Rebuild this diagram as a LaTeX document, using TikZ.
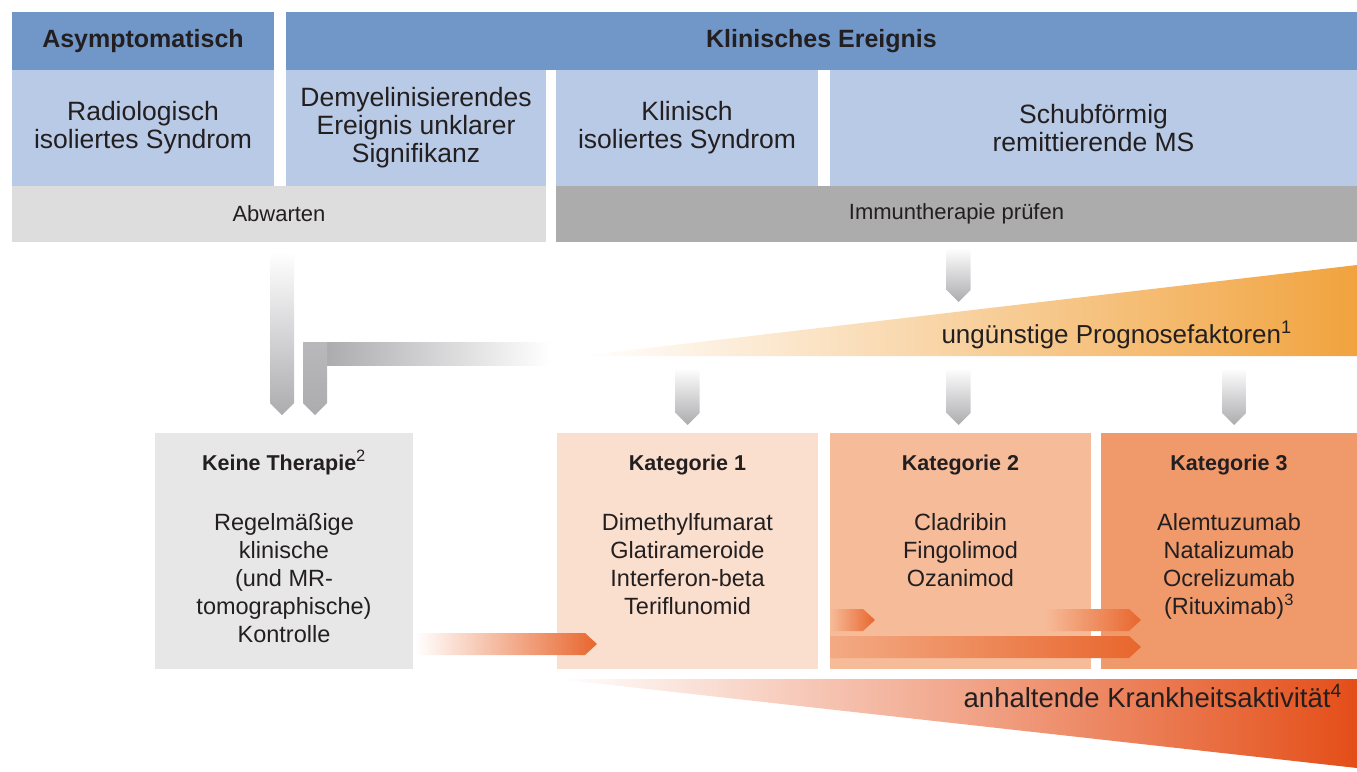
\documentclass[tikz,border=0pt]{standalone}
\usepackage{fontspec}
\setmainfont{Liberation Sans}
\usetikzlibrary{positioning,calc}

\definecolor{hdrblue}{RGB}{113,151,201}
\definecolor{rowblue}{RGB}{185,202,230}
\definecolor{waitgray}{RGB}{221,221,221}
\definecolor{immgray}{RGB}{172,172,172}
\definecolor{nonegray}{RGB}{231,231,231}
\definecolor{kat1}{RGB}{251,223,206}
\definecolor{kat2}{RGB}{246,187,153}
\definecolor{kat3}{RGB}{240,154,108}
\definecolor{arrgray}{RGB}{172,172,175}
\definecolor{arrorange}{RGB}{232,102,45}
\definecolor{progorange}{RGB}{241,163,62}
\definecolor{activmid}{RGB}{243,168,124}
\definecolor{activred}{RGB}{228,78,24}
\definecolor{txt}{RGB}{35,31,32}

\newcommand{\cathdfont}{\fontsize{21.5}{28}\selectfont\bfseries}
% block arrow pointing down: #1 top centre, #2 tip
\newcommand{\downarr}[2]{%
  \shade[garr] ($(#1)+(-12,0)$) -- ($(#1)+(12,0)$) -- ($(#2)+(12,-12)$) -- (#2)
    -- ($(#2)+(-12,-12)$) -- cycle;}
% block arrow pointing right: #1 start (middle), #2 tip, #3 left colour
\newcommand{\rightarr}[3]{%
  \shade[left color=#3,right color=arrorange] ($(#1)+(0,-11)$) -- ($(#2)+(-12,-11)$) -- (#2)
    -- ($(#2)+(-12,11)$) -- ($(#1)+(0,11)$) -- cycle;}

\begin{document}
\begin{tikzpicture}[x=1pt,y=-1pt,
  box/.style={anchor=north west,inner sep=0pt,outer sep=0pt,align=center,text=txt},
  hdr/.style={box,fill=hdrblue,minimum height=58,font=\fontsize{25}{28}\selectfont\bfseries},
  sub/.style={box,fill=rowblue,minimum height=116,font=\fontsize{26.5}{28}\selectfont},
  act/.style={box,minimum height=56,font=\fontsize{22}{26}\selectfont},
  cat/.style={box,minimum height=236},
  cattxt/.style={anchor=north,inner sep=0pt,align=center,text=txt,font=\fontsize{23.5}{28}\selectfont},
  lab/.style={inner sep=0pt,text=txt},
  garr/.style={top color=white,bottom color=arrgray}]
\useasboundingbox (0,0) rectangle (1357,771);

% wedges
\shade[left color=white,middle color=progorange!40,right color=progorange]
  (580,356) -- (1357,265) -- (1357,356) -- cycle;
\shade[left color=white,middle color=activmid,right color=activred]
  (557,679) -- (1357,679) -- (1357,768) -- cycle;

% top rows
\node (asym) [hdr,minimum width=262] at (12,12) {Asymptomatisch};
\node (klin) [hdr,minimum width=1071] at (286,12) {Klinisches Ereignis};
\node (ris) [sub,minimum width=262] at (12,70) {Radiologisch\\isoliertes Syndrom};
\node (demy) [sub,minimum width=260] at (286,70) {Demyelinisierendes\\Ereignis unklarer\\Signifikanz};
\node (cis) [sub,minimum width=262] at (556,70) {Klinisch\\isoliertes Syndrom};
\node (rrms) [sub,minimum width=527] at (830,70) {Schubförmig\\remittierende MS};
\node (abw) [act,fill=waitgray,minimum width=534] at (12,186) {Abwarten};
\node (immu) [act,fill=immgray,minimum width=801] at (556,186) {Immuntherapie prüfen};

% therapy boxes
\node (keine) [cat,fill=nonegray,minimum width=258] at (155,433) {};
\node (k1) [cat,fill=kat1,minimum width=261] at (557,433) {};
\node (k2) [cat,fill=kat2,minimum width=261] at (830,433) {};
\node (k3) [cat,fill=kat3,minimum width=256] at (1101,433) {};

\node (keinet) [cattxt,below=22pt of keine.north] {{\cathdfont Keine Therapie}\smash{\textsuperscript{2}}\\[32pt]
  Regelmäßige\\klinische\\(und MR-\\tomographische)\\Kontrolle};
\node (k1t) [cattxt,below=22pt of k1.north] {{\cathdfont Kategorie 1}\\[32pt]
  Dimethylfumarat\\Glatirameroide\\Interferon-beta\\Teriflunomid};
\node (k2t) [cattxt,below=22pt of k2.north] {{\cathdfont Kategorie 2}\\[32pt]
  Cladribin\\Fingolimod\\Ozanimod};
\node (k3t) [cattxt,below=22pt of k3.north] {{\cathdfont Kategorie 3}\\[32pt]
  Alemtuzumab\\Natalizumab\\Ocrelizumab\\(Rituximab)\textsuperscript{3}};

\node (prog) [lab,anchor=base east,font=\fontsize{26}{28}\selectfont] at (1292,343)
  {ungünstige Prognosefaktoren\textsuperscript{1}};
\node (aktiv) [lab,anchor=base east,font=\fontsize{27.5}{28}\selectfont] at (1342,707)
  {anhaltende Krankheitsaktivität\textsuperscript{4}};

% grey arrows
\coordinate (a1s) at ($(keine.north)+(-2,-181)$);
\coordinate (a1e) at ($(keine.north)+(-2,-18)$);
\coordinate (lend) at ($(cis.south west)+(-6,156)$);
\coordinate (lturn) at ($(keine.north)+(31,-91)$);
\coordinate (ltip) at ($(keine.north)+(31,-18)$);
\coordinate (ims) at ($(immu.south)+(2,6)$);
\coordinate (ime) at ($(immu.south)+(2,60)$);
\downarr{a1s}{a1e}
\shade[left color=arrgray,right color=white] ($(lturn)+(12,0)$) rectangle ($(lend)+(0,23)$);
\shade[top color=arrgray!85,bottom color=arrgray] ($(lturn)+(-12,0)$) -- ($(lturn)+(12,0)$)
  -- ($(ltip)+(12,-12)$) -- (ltip) -- ($(ltip)+(-12,-12)$) -- cycle;
\downarr{ims}{ime}
\foreach \k/\dx in {k1/0,k2/-2,k3/5}{
  \coordinate (\k s) at ($(\k.north)+(\dx,-65)$);
  \coordinate (\k e) at ($(\k.north)+(\dx,-8)$);
  \downarr{\k s}{\k e}
}

% orange arrows
\coordinate (o1s) at ($(keine.south east)+(2,-25)$);
\coordinate (o1e) at ($(k1.south west)+(40,-25)$);
\coordinate (o2s) at ($(k2.south west)+(0,-49)$);
\coordinate (o2e) at ($(k2.south west)+(45,-49)$);
\coordinate (o3s) at ($(k3.south west)+(-56,-49)$);
\coordinate (o3e) at ($(k3.south west)+(40,-49)$);
\coordinate (o4s) at ($(k2.south west)+(0,-22)$);
\coordinate (o4e) at ($(k3.south west)+(40,-22)$);
\rightarr{o1s}{o1e}{white}
\rightarr{o2s}{o2e}{kat2}
\rightarr{o3s}{o3e}{kat2}
\rightarr{o4s}{o4e}{kat2!80!arrorange}
\end{tikzpicture}
\end{document}
